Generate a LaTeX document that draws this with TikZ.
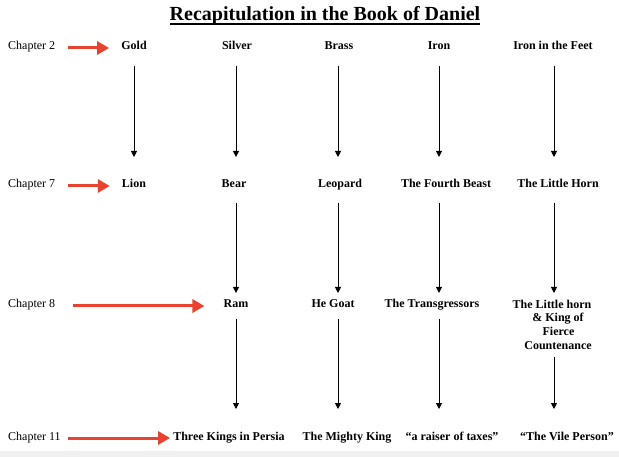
\documentclass[tikz,border=0pt]{standalone}
\usepackage{fontspec}
\setmainfont{Liberation Serif}
\usetikzlibrary{arrows.meta}
\definecolor{redarrow}{RGB}{232,67,48}
\begin{document}
\begin{tikzpicture}[x=1pt,y=-1pt,
  lbl/.style={font=\fontsize{12}{14}\selectfont\bfseries, inner sep=0pt, anchor=base, align=center},
  chap/.style={font=\fontsize{12}{14}\selectfont, inner sep=0pt, anchor=base west},
  down/.style={-{Triangle[length=6pt,width=6pt]}, line width=0.9pt, black},
  redar/.style={-{Triangle[length=12pt,width=13pt]}, line width=3pt, redarrow}]
\useasboundingbox (0,0) rectangle (619,457);
\fill[gray!12] (0,451) rectangle (619,457);

% title
\node[font=\fontsize{20}{24}\selectfont\bfseries, inner sep=0pt, anchor=base] (title) at (325,21) {Recapitulation in the Book of Daniel};
\draw[line width=1.3pt] ([yshift=-3pt]title.base west) -- ([yshift=-3pt]title.base east);

% chapter labels
\node[chap] (c2) at (8,50) {Chapter 2};
\node[chap] (c7) at (8,188) {Chapter 7};
\node[chap] (c8) at (8,308) {Chapter 8};
\node[chap] (c11) at (8,440) {Chapter 11};

% red arrow start points
\coordinate (r2s) at (68,48);
\coordinate (r7s) at (68,186);
\coordinate (r8s) at (73,306);
\coordinate (r11s) at (68,438);

% row 1
\node[lbl] (gold) at (134,50) {Gold};
\node[lbl] (silver) at (237,50) {Silver};
\node[lbl] (brass) at (339,50) {Brass};
\node[lbl] (iron) at (439,50) {Iron};
\node[lbl] (feet) at (553,50) {Iron in the Feet};

% row 2
\node[lbl] (lion) at (134,188) {Lion};
\node[lbl] (bear) at (234,188) {Bear};
\node[lbl] (leopard) at (340,188) {Leopard};
\node[lbl] (beast) at (446,188) {The Fourth Beast};
\node[lbl] (horn) at (558,188) {The Little Horn};

% row 3
\node[lbl] (ram) at (236,308) {Ram};
\node[lbl] (goat) at (333,308) {He Goat};
\node[lbl] (trans) at (432,308) {The Transgressors};
\node[lbl, anchor=north, font=\fontsize{12}{13.7}\selectfont\bfseries] (king) at (552,299.5) {The Little horn\\\hspace*{12pt}\& King of\\\hspace*{13pt}Fierce\\\hspace*{12pt}Countenance};

% row 4
\node[lbl] (persia) at (229,440) {Three Kings in Persia};
\node[lbl] (mighty) at (347,440) {The Mighty King};
\node[lbl] (taxes) at (452,440) {``a raiser of taxes''};
\node[lbl] (vile) at (567,440) {``The Vile Person''};

% red arrows
\draw[redar] (r2s) -- ([xshift=-12pt]gold.west |- r2s);
\draw[redar] (r7s) -- ([xshift=-12pt]lion.west |- r7s);
\draw[redar] (r8s) -- ([xshift=-19pt]ram.west |- r8s);
\draw[redar] (r11s) -- ([xshift=-3pt]persia.west |- r11s);

% chapter 2 -> 7
\draw[down, shorten <=16pt, shorten >=31pt] (gold.base) -- (gold.base |- lion.base);
\draw[down, shorten <=16pt, shorten >=31pt] ([xshift=-1pt]silver.base) -- ([xshift=-1pt]silver.base |- bear.base);
\draw[down, shorten <=16pt, shorten >=31pt] ([xshift=-1pt]brass.base) -- ([xshift=-1pt]brass.base |- leopard.base);
\draw[down, shorten <=16pt, shorten >=31pt] (iron.base) -- (iron.base |- beast.base);
\draw[down, shorten <=16pt, shorten >=31pt] ([xshift=1pt]feet.base) -- ([xshift=1pt]feet.base |- horn.base);

% chapter 7 -> 8
\draw[down, shorten <=15pt, shorten >=15pt] (ram.base |- bear.base) -- (ram.base);
\draw[down, shorten <=15pt, shorten >=15pt] ([xshift=-1pt]brass.base |- leopard.base) -- ([xshift=-1pt]brass.base |- goat.base);
\draw[down, shorten <=15pt, shorten >=15pt] (iron.base |- beast.base) -- (iron.base |- trans.base);
\draw[down, shorten <=15pt, shorten >=6.5pt] ([xshift=1pt]feet.base |- horn.base) -- ([xshift=1pt]feet.base |- king.north);

% chapter 8 -> 11
\draw[down, shorten <=11pt, shorten >=31pt] (ram.base) -- (ram.base |- persia.base);
\draw[down, shorten <=11pt, shorten >=31pt] ([xshift=-1pt]brass.base |- goat.base) -- ([xshift=-1pt]brass.base |- mighty.base);
\draw[down, shorten <=11pt, shorten >=31pt] (iron.base |- trans.base) -- (iron.base |- taxes.base);
\draw[down, shorten <=8pt, shorten >=31pt] ([xshift=1pt]feet.base |- king.south) -- ([xshift=1pt]feet.base |- vile.base);
\end{tikzpicture}
\end{document}
